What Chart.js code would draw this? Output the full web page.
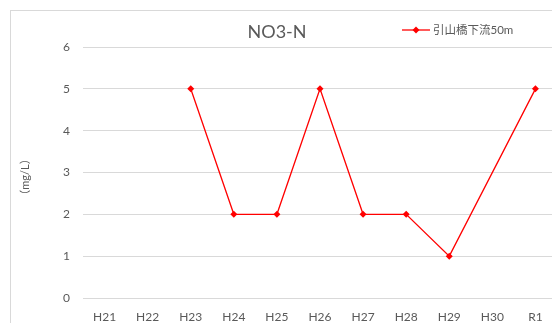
<!DOCTYPE html>
<html>
<head>
<meta charset="utf-8">
<script src="https://cdn.jsdelivr.net/npm/chart.js@4/dist/chart.umd.min.js"></script>
<style>
  html, body { margin: 0; padding: 0; background: #fff; overflow: hidden; width: 552px; height: 323px; }
  #frame { position: absolute; left: 10px; top: 10px; width: 580px; height: 340px; border: 1px solid #d9d9d9; box-sizing: border-box; }
  #wrap { position: absolute; left: 0; top: 0; width: 580px; height: 323px; }
</style>
</head>
<body>
<div id="frame"></div>
<div id="wrap"><canvas id="c" width="580" height="323"></canvas></div>
<script>
const categories = ['H21', 'H22', 'H23', 'H24', 'H25', 'H26', 'H27', 'H28', 'H29', 'H30', 'R1'];
const no3n = [null, null, 5, 2, 2, 5, 2, 2, 1, null, 5];
const yTicks = [0, 1, 2, 3, 4, 5, 6];
const seriesName = '引山橋下流50m';
const chartTitle = 'NO3-N';
const axisTitle = '（mg/L）';

const FONT = "Lato, 'Noto Sans CJK JP', sans-serif";
const TEXT = '#595959';

// Title, legend and vertical unit label drawn on the canvas
const annotations = {
  id: 'annotations',
  afterDraw(chart) {
    const ctx = chart.ctx;
    ctx.save();
    ctx.fillStyle = TEXT;
    ctx.textBaseline = 'middle';
    ctx.font = "18px " + FONT;
    ctx.textAlign = 'center';
    ctx.fillText(chartTitle, 277, 32);

    // legend entry
    ctx.strokeStyle = '#ff0000';
    ctx.lineWidth = 1.3;
    ctx.beginPath();
    ctx.moveTo(402, 30);
    ctx.lineTo(430, 30);
    ctx.stroke();
    ctx.fillStyle = '#ff0000';
    ctx.beginPath();
    ctx.moveTo(416, 26.5);
    ctx.lineTo(419.5, 30);
    ctx.lineTo(416, 33.5);
    ctx.lineTo(412.5, 30);
    ctx.closePath();
    ctx.fill();
    ctx.fillStyle = TEXT;
    ctx.font = "11.5px " + FONT;
    ctx.textAlign = 'left';
    ctx.fillText(seriesName, 433, 30);

    // unit label
    ctx.translate(25, 177);
    ctx.rotate(-Math.PI / 2);
    ctx.textAlign = 'center';
    ctx.font = "11px " + FONT;
    ctx.fillText(axisTitle, 0, 0);
    ctx.restore();
  }
};

new Chart(document.getElementById('c'), {
  type: 'line',
  data: {
    labels: categories,
    datasets: [{
      label: seriesName,
      data: no3n,
      borderColor: '#ff0000',
      backgroundColor: '#ff0000',
      borderWidth: 1.3,
      pointStyle: 'rectRot',
      pointRadius: 3.5,
      pointBorderWidth: 0,
      spanGaps: true,
      tension: 0
    }]
  },
  options: {
    responsive: false,
    animation: false,
    layout: { padding: { top: 47, right: 23, left: 0, bottom: 0 } },
    plugins: {
      legend: { display: false },
      title: { display: false },
      tooltip: { enabled: false }
    },
    scales: {
      x: {
        type: 'category',
        offset: true,
        grid: { display: false, drawTicks: false },
        border: { display: false },
        ticks: { color: TEXT, font: { family: FONT, size: 12 }, padding: 12, maxRotation: 0, autoSkip: false },
        afterFit(scale) { scale.height = 25; }
      },
      y: {
        min: 0,
        max: 6,
        afterBuildTicks(scale) { scale.ticks = yTicks.map(v => ({ value: v })); },
        grid: { color: '#d9d9d9', lineWidth: 1, drawTicks: false },
        border: { display: false },
        ticks: { color: TEXT, font: { family: FONT, size: 12 }, padding: 13 },
        afterFit(scale) { scale.width = 83; }
      }
    }
  },
  plugins: [annotations]
});
</script>
</body>
</html>
